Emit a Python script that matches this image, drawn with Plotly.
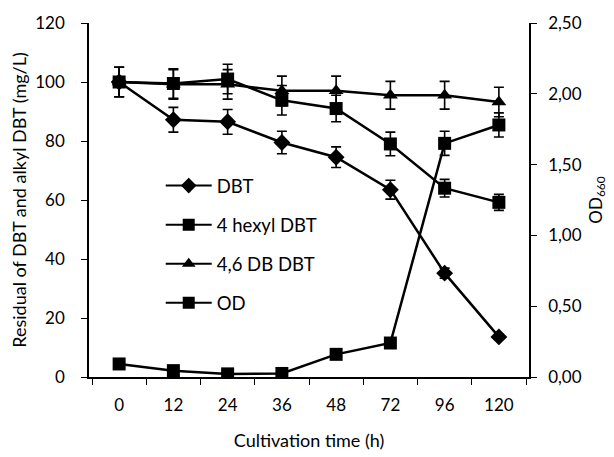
import plotly.graph_objects as go

time_labels = ["0", "12", "24", "36", "48", "72", "96", "120"]

dbt = [100, 87.2, 86.5, 79.5, 74.5, 63.5, 35.2, 13.6]
dbt_err = [5, 4.2, 4.2, 3.8, 3.5, 3.2, 1.7, 0.8]

hexyl = [100, 99.5, 101, 93.8, 91.0, 79.0, 64.0, 59.2]
hexyl_err = [5, 5, 5, 5, 4.5, 4, 3, 2.7]

db_dbt = [100, 99.2, 99.2, 97, 97, 95.5, 95.5, 93.2]
db_dbt_err = [5, 5, 5, 5, 5, 4.7, 4.7, 5]

od = [0.092, 0.045, 0.022, 0.025, 0.16, 0.24, 1.65, 1.78]
od_err = [0.0, 0.0, 0.0, 0.0, 0.0, 0.0, 0.085, 0.085]

FONT = "Lato"
lw = 2.5
err_style = dict(type="data", visible=True, color="black", thickness=1.6, width=5)

fig = go.Figure()

def add(name, y, err, symbol, size, axis="y"):
    e = dict(err_style)
    e["array"] = err
    fig.add_trace(go.Scatter(
        x=time_labels, y=y, name=name, mode="lines+markers",
        line=dict(color="black", width=lw),
        marker=dict(symbol=symbol, size=size, color="black"),
        error_y=e, yaxis=axis, showlegend=False, legendgroup=name,
    ))
    # legend entry without error-bar glyph
    fig.add_trace(go.Scatter(
        x=[None], y=[None], name=name, mode="lines+markers",
        line=dict(color="black", width=2),
        marker=dict(symbol=symbol, size=size - 1, color="black"),
        yaxis=axis, showlegend=True, legendgroup=name,
    ))

add("DBT", dbt, dbt_err, "diamond", 13)
add("4 hexyl DBT", hexyl, hexyl_err, "square", 13)
add("4,6 DB DBT", db_dbt, db_dbt_err, "triangle-up", 13)
add("OD", od, od_err, "square", 13, axis="y2")

fig.update_layout(
    width=606, height=449,
    margin=dict(l=81, r=85, t=15, b=80, autoexpand=False),
    paper_bgcolor="white", plot_bgcolor="white",
    separators=",.",
    font=dict(family=FONT, size=17, color="black"),
    showlegend=True,
    legend=dict(x=0.163, y=0.593, xanchor="left", yanchor="top",
                bgcolor="rgba(0,0,0,0)", font=dict(size=18.5, family=FONT),
                tracegroupgap=12, itemwidth=46),
    xaxis=dict(type="category", showline=True, linecolor="black", linewidth=1.5,
               ticks="outside", tickson="boundaries", ticklen=6, tickcolor="black",
               showgrid=False, zeroline=False, automargin=False, ticklabelstandoff=12,
               title=dict(text="Cultivation time (h)", font=dict(size=18), standoff=20),
               tickfont=dict(size=17)),
    yaxis=dict(range=[0, 120], dtick=20, showline=True, linecolor="black", linewidth=1.5,
               ticks="outside", ticklen=6, tickcolor="black", showgrid=False, zeroline=False,
               automargin=False, ticklabelstandoff=13,
               title=dict(text="Residual of DBT and alkyl DBT (mg/L)", font=dict(size=18), standoff=8),
               tickfont=dict(size=17)),
    yaxis2=dict(range=[0, 2.5], dtick=0.5, tickformat=".2f", overlaying="y", side="right",
                showline=True, linecolor="black", linewidth=1.5, automargin=False,
                ticks="outside", ticklen=6, tickcolor="black", showgrid=False, zeroline=False,
                ticklabelstandoff=8,
                title=dict(text="OD<sub>660</sub>", font=dict(size=17), standoff=9),
                tickfont=dict(size=17)),
)

fig.write_html("out.html")
